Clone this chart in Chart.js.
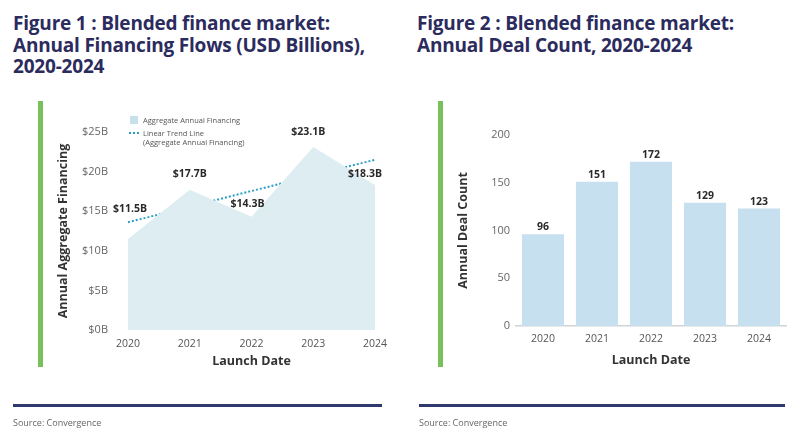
<!DOCTYPE html>
<html>
<head>
<meta charset="utf-8">
<script src="https://cdn.jsdelivr.net/npm/chart.js@4.4.1/dist/chart.umd.min.js"></script>
<style>
  html, body { margin:0; padding:0; background:#fff; }
  body { width:800px; height:434px; position:relative; overflow:hidden; font-family:"Open Sans", sans-serif; }
  .title { position:absolute; top:13px; font-weight:700; font-size:19px; line-height:21.5px; color:#2b2b5e; letter-spacing:-0.2px; }
  .green { position:absolute; top:101px; width:5px; height:266px; background:#78c05a; }
  .rule { position:absolute; top:404px; height:3px; background:#2d3a6b; }
  .source { position:absolute; top:416px; font-size:9px; color:#666; }
  canvas { position:absolute; top:0; }
  .legend { position:absolute; font-size:7.5px; color:#555; line-height:9px; }
</style>
</head>
<body>
<div class="title" style="left:13px;">Figure 1 : Blended finance market:<br>Annual Financing Flows (USD Billions),<br>2020-2024</div>
<div class="title" style="left:417px;">Figure 2 : Blended finance market:<br>Annual Deal Count, 2020-2024</div>
<div class="green" style="left:38px;"></div>
<div class="green" style="left:438px;"></div>
<div style="position:absolute;left:0;top:0;width:400px;height:434px;"><canvas id="c1" width="400" height="434"></canvas></div>
<div style="position:absolute;left:400px;top:0;width:400px;height:434px;"><canvas id="c2" width="400" height="434"></canvas></div>
<div class="legend" style="left:130px;top:116px;"><span style="display:inline-block;width:8px;height:8px;background:#c8e0ec;vertical-align:-1px;margin-right:5px;"></span>Aggregate Annual Financing</div>
<div class="legend" style="left:129px;top:129px;"><span style="display:inline-block;width:10px;border-top:2px dotted #2a9fc5;vertical-align:2px;margin-right:4px;"></span>Linear Trend Line<br><span style="margin-left:14px;">(Aggregate Annual Financing)</span></div>
<div class="rule" style="left:13px;width:369px;"></div>
<div class="rule" style="left:419px;width:366px;"></div>
<div class="source" style="left:13px;">Source: Convergence</div>
<div class="source" style="left:419px;">Source: Convergence</div>
<script>
const years = ['2020', '2021', '2022', '2023', '2024'];
const financing = [11.5, 17.7, 14.3, 23.1, 18.3];
const financingLabels = ['$11.5B', '$17.7B', '$14.3B', '$23.1B', '$18.3B'];
const trendLine = [13.6, null, null, null, 21.5];
const dealCount = [96, 151, 172, 129, 123];
const financingTicks = [0, 5, 10, 15, 20, 25];
const dealTicks = [0, 50, 100, 150, 200];

Chart.defaults.font.family = '"Open Sans", sans-serif';
Chart.defaults.animation = false;

const labelPlugin = {
  id: 'pointLabels',
  afterDatasetsDraw(chart, args, opts) {
    const ctx = chart.ctx;
    const meta = chart.getDatasetMeta(0);
    ctx.save();
    ctx.font = 'bold ' + opts.size + 'px "Open Sans", sans-serif';
    ctx.fillStyle = '#2a2a2a';
    ctx.textAlign = 'center';
    ctx.textBaseline = 'middle';
    meta.data.forEach((el, i) => {
      const off = opts.offsets ? opts.offsets[i] : [0, opts.dy];
      ctx.fillText(opts.texts[i], el.x + off[0], el.y + off[1]);
    });
    ctx.restore();
  }
};

new Chart(document.getElementById('c1'), {
  type: 'line',
  data: {
    labels: years,
    datasets: [
      { data: financing, fill: 'origin', backgroundColor: '#ddedf2', borderWidth: 0, pointRadius: 0, tension: 0 },
      { data: trendLine, spanGaps: true, fill: false, borderColor: '#2a9fc5', borderWidth: 2, borderDash: [2, 2], pointRadius: 0 }
    ]
  },
  options: {
    responsive: false,
    layout: { padding: { left: 40, right: 25, top: 132, bottom: 59 } },
    plugins: {
      legend: { display: false },
      tooltip: { enabled: false },
      pointLabels: {
        size: 10.5,
        texts: financingLabels,
        offsets: [[2, -30], [0, -16], [-4, -13], [-5, -15], [-10, -11]]
      }
    },
    scales: {
      x: {
        offset: false,
        grid: { display: false, drawTicks: false },
        border: { display: false },
        ticks: { padding: 8, color: '#555', font: { size: 10.5 }, maxRotation: 0 },
        title: { display: true, text: 'Launch Date', color: '#333', font: { size: 12.5, weight: 'bold' }, padding: { top: 0, bottom: 6 } },
        afterFit(s) { s.height = 45; }
      },
      y: {
        min: 0, max: 25,
        afterBuildTicks(s) { s.ticks = financingTicks.map(v => ({ value: v })); },
        grid: { display: false, drawTicks: false },
        border: { display: false },
        ticks: { padding: 20, color: '#666', font: { size: 11 }, callback: v => '$' + v + 'B' },
        title: { display: true, text: 'Annual Aggregate Financing', color: '#333', font: { size: 12.5, weight: 'bold' }, padding: { top: 16, bottom: 0 } },
        afterFit(s) { s.width = 88; }
      }
    }
  },
  plugins: [labelPlugin]
});

new Chart(document.getElementById('c2'), {
  type: 'bar',
  data: {
    labels: years,
    datasets: [
      { data: dealCount, backgroundColor: '#c6e0f0', borderWidth: 0, categoryPercentage: 1, barPercentage: 0.78 }
    ]
  },
  options: {
    responsive: false,
    layout: { padding: { left: 40, right: 14, top: 135, bottom: 63 } },
    plugins: {
      legend: { display: false },
      tooltip: { enabled: false },
      pointLabels: { size: 10.5, texts: dealCount.map(String), dy: -7 }
    },
    scales: {
      x: {
        grid: { display: false, drawTicks: false },
        border: { display: true, color: '#cfd3d6', width: 1.5 },
        ticks: { padding: 7, color: '#555', font: { size: 10.5 }, maxRotation: 0 },
        title: { display: true, text: 'Launch Date', color: '#333', font: { size: 12.5, weight: 'bold' }, padding: { top: 0, bottom: 3 } },
        afterFit(s) { s.height = 45; }
      },
      y: {
        min: 0, max: 200,
        afterBuildTicks(s) { s.ticks = dealTicks.map(v => ({ value: v })); },
        grid: { display: false, drawTicks: false },
        border: { display: false },
        ticks: { padding: 6, color: '#666', font: { size: 11 } },
        title: { display: true, text: 'Annual Deal Count', color: '#333', font: { size: 12.5, weight: 'bold' }, padding: { top: 16, bottom: 0 } },
        afterFit(s) { s.width = 76; }
      }
    }
  },
  plugins: [labelPlugin]
});
</script>
</body>
</html>
